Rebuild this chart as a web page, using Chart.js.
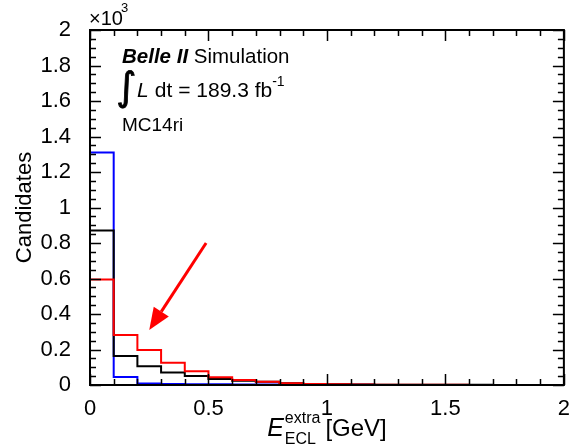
<!DOCTYPE html>
<html>
<head>
<meta charset="utf-8">
<script src="https://cdn.jsdelivr.net/npm/chart.js@4.4.1/dist/chart.umd.min.js"></script>
<style>
  body { margin: 0; background: #fff; }
</style>
</head>
<body>
<canvas id="c" width="573" height="444"></canvas>
<script>
// bin edges in GeV (left edges, plus the last right edge)
var binEdges = [0, 0.1, 0.2, 0.3, 0.4, 0.5, 0.6, 0.7, 0.8, 0.9, 1.0,
                1.1, 1.2, 1.3, 1.4, 1.5, 1.6, 1.7, 1.8, 1.9, 2.0];
// candidates per bin
var blueCounts  = [1310, 45, 8, 5, 4, 4, 3, 3, 2, 1, 1, 1, 0, 0, 0, 0, 0, 0, 0, 0];
var blackCounts = [870, 163, 105, 70, 51, 34, 24, 18, 10, 6, 4, 3, 2, 2, 1, 1, 1, 0, 0, 0];
var redCounts   = [594, 282, 197, 125, 77, 43, 28, 18, 10, 6, 4, 3, 2, 1, 1, 1, 0, 0, 0, 0];
var xTicks = [0, 0.5, 1, 1.5, 2];
var yTicks = [0, 200, 400, 600, 800, 1000, 1200, 1400, 1600, 1800, 2000];
// arrow (data coords)
var arrowFrom = [0.49, 800];
var arrowTo = [0.25, 310];

var FONT = '"Liberation Sans", Arial, Helvetica, sans-serif';

function steps(counts) {
  var pts = [];
  for (var i = 0; i < counts.length; i++) pts.push({x: binEdges[i], y: counts[i]});
  pts.push({x: binEdges[counts.length], y: counts[counts.length - 1]});
  return pts;
}

function histo(label, counts, color) {
  return {
    label: label,
    data: steps(counts),
    borderColor: color,
    borderWidth: 2,
    stepped: 'before',
    pointRadius: 0,
    fill: false
  };
}

var rootStyle = {
  id: 'rootStyle',
  afterDraw: function(chart) {
    var ctx = chart.ctx, a = chart.chartArea;
    var xs = chart.scales.x, ys = chart.scales.y;
    ctx.save();
    ctx.strokeStyle = '#000';
    ctx.lineWidth = 1.5;
    ctx.beginPath();
    // x ticks, bottom and top, inward
    for (var i = 0; i <= 20; i++) {
      var px = Math.round(xs.getPixelForValue(i * 0.1)) + 0.5;
      var len = (i % 5 === 0) ? 11 : 6;
      ctx.moveTo(px, a.bottom); ctx.lineTo(px, a.bottom - len);
      ctx.moveTo(px, a.top); ctx.lineTo(px, a.top + len);
    }
    // y ticks, left and right
    for (var j = 0; j <= 40; j++) {
      var py = Math.round(ys.getPixelForValue(j * 50)) + 0.5;
      var l2 = (j % 4 === 0) ? 11 : 6;
      ctx.moveTo(a.left, py); ctx.lineTo(a.left + l2, py);
      ctx.moveTo(a.right, py); ctx.lineTo(a.right - l2, py);
    }
    ctx.stroke();
    ctx.lineWidth = 2;
    ctx.strokeRect(a.left, a.top, a.right - a.left, a.bottom - a.top);

    // arrow
    var x1 = xs.getPixelForValue(arrowFrom[0]), y1 = ys.getPixelForValue(arrowFrom[1]);
    var x2 = xs.getPixelForValue(arrowTo[0]), y2 = ys.getPixelForValue(arrowTo[1]);
    var ang = Math.atan2(y2 - y1, x2 - x1);
    var hl = 22, hw = 9;
    var bx = x2 - hl * Math.cos(ang), by = y2 - hl * Math.sin(ang);
    ctx.strokeStyle = '#ff0000';
    ctx.fillStyle = '#ff0000';
    ctx.lineWidth = 3;
    ctx.beginPath(); ctx.moveTo(x1, y1); ctx.lineTo(bx, by); ctx.stroke();
    ctx.beginPath();
    ctx.moveTo(x2, y2);
    ctx.lineTo(bx + hw * Math.sin(ang), by - hw * Math.cos(ang));
    ctx.lineTo(bx - hw * Math.sin(ang), by + hw * Math.cos(ang));
    ctx.closePath(); ctx.fill();

    // text
    ctx.fillStyle = '#000';
    ctx.textBaseline = 'alphabetic';
    ctx.textAlign = 'left';
    // x10^3
    ctx.font = '20px ' + FONT;
    ctx.fillText('\u00d710', a.left - 1, 25);
    ctx.font = '13px ' + FONT;
    ctx.fillText('3', a.left + 31, 12);

    // Belle II Simulation
    var tx = a.left + 32;
    ctx.font = 'italic bold 20.5px ' + FONT;
    ctx.fillText('Belle II', tx, 63);
    var w = ctx.measureText('Belle II ').width;
    ctx.font = '20.5px ' + FONT;
    ctx.fillText('Simulation', tx + w, 63);

    // integral L dt
    ctx.font = '39px "DejaVu Sans", ' + FONT;
    ctx.fillText('\u222b', a.left + 26, 100);
    ctx.lineWidth = 0.8;
    ctx.strokeStyle = '#000';
    ctx.strokeText('\u222b', a.left + 26, 100);
    ctx.font = 'italic 21px ' + FONT;
    ctx.fillText('L', a.left + 47, 97);
    ctx.font = '21px ' + FONT;
    var s = ' dt = 189.3 fb';
    ctx.fillText(s, a.left + 59, 97);
    var sw = ctx.measureText(s).width;
    ctx.font = '14px ' + FONT;
    ctx.fillText('-1', a.left + 59 + sw, 86);

    // MC14ri
    ctx.font = '19px ' + FONT;
    ctx.fillText('MC14ri', a.left + 32, 131);

    // y title
    ctx.save();
    ctx.translate(25, (a.top + a.bottom) / 2);
    ctx.rotate(-Math.PI / 2);
    ctx.textAlign = 'center';
    ctx.textBaseline = 'middle';
    ctx.font = '22px ' + FONT;
    ctx.fillText('Candidates', 0, 0);
    ctx.restore();

    // x title: E_ECL^extra [GeV]
    ctx.font = 'italic 25px ' + FONT;
    var wE = ctx.measureText('E').width;
    ctx.font = '16px ' + FONT;
    var wSup = ctx.measureText('extra').width;
    var wSub = ctx.measureText('ECL').width;
    var gap = 6;
    ctx.font = '24px ' + FONT;
    var wG = ctx.measureText('[GeV]').width;
    var total = wE + Math.max(wSup, wSub) + gap + wG;
    var x0 = (a.left + a.right) / 2 - total / 2;
    var base = 436;
    ctx.font = 'italic 25px ' + FONT;
    ctx.fillText('E', x0, base);
    ctx.font = '16px ' + FONT;
    ctx.fillText('extra', x0 + wE + 1, base - 13);
    ctx.fillText('ECL', x0 + wE + 1, base + 8);
    ctx.font = '24px ' + FONT;
    ctx.fillText('[GeV]', x0 + wE + Math.max(wSup, wSub) + gap, base);
    ctx.restore();
  }
};

new Chart(document.getElementById('c'), {
  type: 'line',
  data: {
    datasets: [
      histo('red', redCounts, '#ff0000'),
      histo('black', blackCounts, '#000000'),
      histo('blue', blueCounts, '#0000ff')
    ]
  },
  options: {
    responsive: false,
    animation: false,
    layout: { padding: { top: 30, right: 9, left: 0, bottom: 0 } },
    plugins: { legend: { display: false }, tooltip: { enabled: false } },
    scales: {
      x: {
        type: 'linear', min: 0, max: 2,
        grid: { display: false }, border: { display: false },
        afterBuildTicks: function(s) { s.ticks = xTicks.map(function(v) { return {value: v}; }); },
        afterFit: function(s) { s.height = 59; },
        ticks: {
          autoSkip: false, maxRotation: 0, padding: 3, color: '#000',
          font: { family: FONT, size: 22 },
          callback: function(v) { return String(v); }
        }
      },
      y: {
        type: 'linear', min: 0, max: 2000,
        grid: { display: false }, border: { display: false },
        afterBuildTicks: function(s) { s.ticks = yTicks.map(function(v) { return {value: v}; }); },
        afterFit: function(s) { s.width = 90; },
        ticks: {
          autoSkip: false, padding: 11, color: '#000',
          font: { family: FONT, size: 22 },
          callback: function(v) { return String(parseFloat((v / 1000).toFixed(1))); }
        }
      }
    }
  },
  plugins: [rootStyle]
});
</script>
</body>
</html>
